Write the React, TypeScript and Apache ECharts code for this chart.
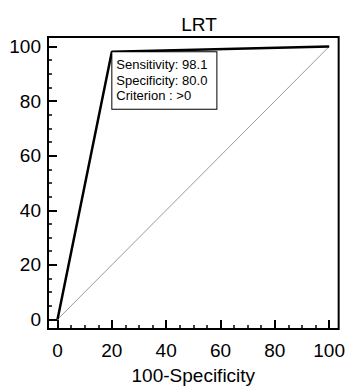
import React, { useEffect, useRef } from "react";
import * as echarts from "echarts";

const titleText = "LRT";
const xAxisName = "100-Specificity";
const majorTicks = [0, 20, 40, 60, 80, 100];
const minorTicks = [5, 10, 15, 25, 30, 35, 45, 50, 55, 65, 70, 75, 85, 90, 95];
const rocX = [0, 20, 100];
const rocY = [0, 98.1, 100];
const diagX = [0, 100];
const diagY = [0, 100];
const criterionPoint = [20, 98.1];
const boxLines = ["Sensitivity: 98.1", "Specificity: 80.0", "Criterion : >0"];

const FONT = "Liberation Sans, Arial, sans-serif";
const AX_MIN = -3.5;
const AX_MAX = 103.5;

export default function App() {
  const ref = useRef<HTMLDivElement>(null);
  useEffect(() => {
    if (!ref.current) return;
    const chart = echarts.init(ref.current, null, { renderer: "svg" });
    const baseAxis = (pos: string, isMinor: boolean, dim: "x" | "y") => ({
      type: "value",
      position: pos,
      min: AX_MIN,
      max: AX_MAX,
      splitLine: { show: false },
      axisLine: { show: false, onZero: false },
      axisTick: {
        show: true,
        inside: true,
        length: isMinor ? 4 : 9,
        customValues: isMinor ? minorTicks : majorTicks,
        lineStyle: { color: "#000", width: isMinor ? 1.5 : 2 },
      },
      axisLabel: {
        show: !isMinor,
        customValues: majorTicks,
        color: "#000",
        fontFamily: FONT,
        fontSize: 19,
        margin: dim === "x" ? 12 : 7,
      },
      ...(dim === "x" && !isMinor
        ? {
            name: xAxisName,
            nameLocation: "middle",
            nameGap: 37,
            nameTextStyle: { color: "#000", fontFamily: FONT, fontSize: 19 },
          }
        : {}),
    });
    chart.setOption({
      animation: false,
      backgroundColor: "#fff",
      title: {
        text: titleText,
        left: 194,
        textAlign: "center",
        top: 10,
        textStyle: { color: "#000", fontFamily: FONT, fontSize: 19, fontWeight: "normal" },
      },
      grid: {
        left: 48,
        right: 7,
        top: 37,
        bottom: 61,
        show: true,
        borderColor: "#000",
        borderWidth: 2,
        backgroundColor: "transparent",
      },
      xAxis: [baseAxis("bottom", false, "x"), baseAxis("bottom", true, "x")],
      yAxis: [baseAxis("left", false, "y"), baseAxis("left", true, "y")],
      series: [
        {
          type: "line",
          data: diagX.map((x, i) => [x, diagY[i]]),
          symbol: "none",
          lineStyle: { color: "#9a9a9a", width: 1 },
          silent: true,
        },
        {
          type: "line",
          data: rocX.map((x, i) => [x, rocY[i]]),
          symbol: "none",
          lineStyle: { color: "#000", width: 2.5 },
          silent: true,
        },
      ],
    });
    const p = chart.convertToPixel({ xAxisIndex: 0, yAxisIndex: 0 }, criterionPoint) as number[];
    chart.setOption({
      graphic: [
        {
          type: "text",
          x: p[0] + 0.5,
          y: p[1] + 0.5,
          z: 100,
          style: {
            text: boxLines.join("\n"),
            font: `13px ${FONT}`,
            fill: "#000",
            lineHeight: 15.5,
            backgroundColor: "#fff",
            borderColor: "#000",
            borderWidth: 1,
            padding: [5, 9, 5, 4],
          },
        },
      ],
    });
    return () => chart.dispose();
  }, []);
  return (
    <div
      ref={ref}
      style={{ position: "fixed", left: 0, top: 0, width: 348, height: 390 }}
    />
  );
}
